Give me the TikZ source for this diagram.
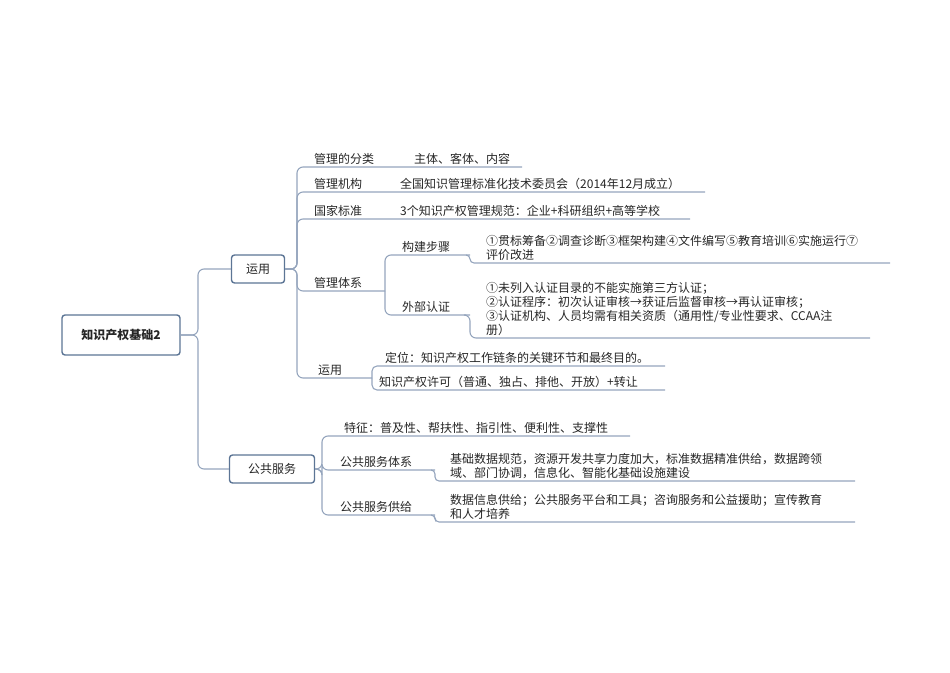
\documentclass[tikz,border=0pt]{standalone}
\usepackage{fontspec}
\setmainfont{Noto Sans CJK SC}
\begin{document}
\begin{tikzpicture}[x=1pt,y=-1pt,
  every node/.style={font=\fontsize{12}{15}\selectfont, text=black!85},
  box/.style={draw=boxc, line width=1.4pt, rounded corners=3pt, fill=white, inner sep=0pt, minimum height=28pt},
  lbl/.style={anchor=south west, inner sep=2pt},
  para/.style={anchor=south west, inner sep=2pt, align=left, text width=#1},
  conn/.style={draw=linec, line width=1.1pt, rounded corners=6pt}]
\definecolor{boxc}{HTML}{5C7595}
\definecolor{linec}{HTML}{95A5BD}
\useasboundingbox (0,0) rectangle (950,672);
% nodes
\node[box, minimum width=118pt, minimum height=40pt, font=\fontsize{12}{15}\selectfont\bfseries] (root) at (121,335) {知识产权基础2};
\node[box, minimum width=53pt] (yy) at (258,269) {运用};
\node[box, minimum width=85pt] (gg) at (272,469) {公共服务};
% level 2 under 运用
\node[lbl] (a1) at (312,167) {管理的分类};
\node[lbl] (a1c) at (412,167) {主体、客体、内容};
\node[lbl] (a2) at (312,192) {管理机构};
\node[lbl] (a2c) at (398,192) {全国知识管理标准化技术委员会（2014年12月成立）};
\node[lbl] (a3) at (312,219) {国家标准};
\node[lbl] (a3c) at (398,219) {3个知识产权管理规范：企业+科研组织+高等学校};
\node[lbl] (a4) at (312,291) {管理体系};
\node[lbl] (b1) at (400,255) {构建步骤};
\node[para=400pt] (b1c) at (484,263) {①贯标筹备②调查诊断③框架构建④文件编写⑤教育培训⑥实施运行⑦\\[-1pt]评价改进};
\node[lbl] (b2) at (400,315) {外部认证};
\node[para=400pt] (b2c) at (484,338) {①未列入认证目录的不能实施第三方认证；\\[-1pt]②认证程序：初次认证审核→获证后监督审核→再认证审核；\\[-1pt]③认证机构、人员均需有相关资质（通用性/专业性要求、CCAA注\\[-1pt]册）};
\node[lbl] (a5) at (316,378) {运用};
\node[lbl] (c1) at (383,366) {定位：知识产权工作链条的关键环节和最终目的。};
\node[lbl] (c2) at (377,390) {知识产权许可（普通、独占、排他、开放）+转让};
% 公共服务
\node[lbl] (d1) at (342,436) {特征：普及性、帮扶性、指引性、便利性、支撑性};
\node[lbl] (d2) at (338,470) {公共服务体系};
\node[para=410pt] (d2c) at (448,481) {基础数据规范，资源开发共享力度加大，标准数据精准供给，数据跨领\\[-1pt]域、部门协调，信息化、智能化基础设施建设};
\node[lbl] (d3) at (338,515) {公共服务供给};
\node[para=410pt] (d3c) at (448,522) {数据信息供给；公共服务平台和工具；咨询服务和公益援助；宣传教育\\[-1pt]和人才培养};
% connectors
\draw[conn] (root.east) -| (198,290) |- (yy.west);
\draw[conn] (root.east) -| (198,440) |- (gg.west);
\draw[conn] (yy.east) -| (297,167) -- (522,167);
\draw[conn] (yy.east) -| (297,192) -- (705,192);
\draw[conn] (yy.east) -| (297,219) -- (690,219);
\draw[conn] (yy.east) -| (297,291) -- (385,291);
\draw[conn] (yy.east) -| (297,378) -- (372,378);
\draw[conn] (385,291) |- (470,255);
\draw[conn] (385,291) |- (470,315);
\draw[conn, rounded corners=4pt] (466,255) -| (470,263) -- (890,263);
\draw[conn, rounded corners=6pt] (466,315) -| (470,338) -- (870,338);
\draw[conn, rounded corners=5pt] (372,378) |- (665,366);
\draw[conn, rounded corners=5pt] (372,378) |- (665,390);
\draw[conn] (gg.east) -| (322,436) -- (630,436);
\draw[conn] (gg.east) -| (322,470) -- (435,470);
\draw[conn] (gg.east) -| (322,515) -- (435,515);
\draw[conn, rounded corners=4pt] (431,470) -| (435,481) -- (855,481);
\draw[conn, rounded corners=4pt] (431,515) -| (435,522) -- (855,522);
\end{tikzpicture}
\end{document}
